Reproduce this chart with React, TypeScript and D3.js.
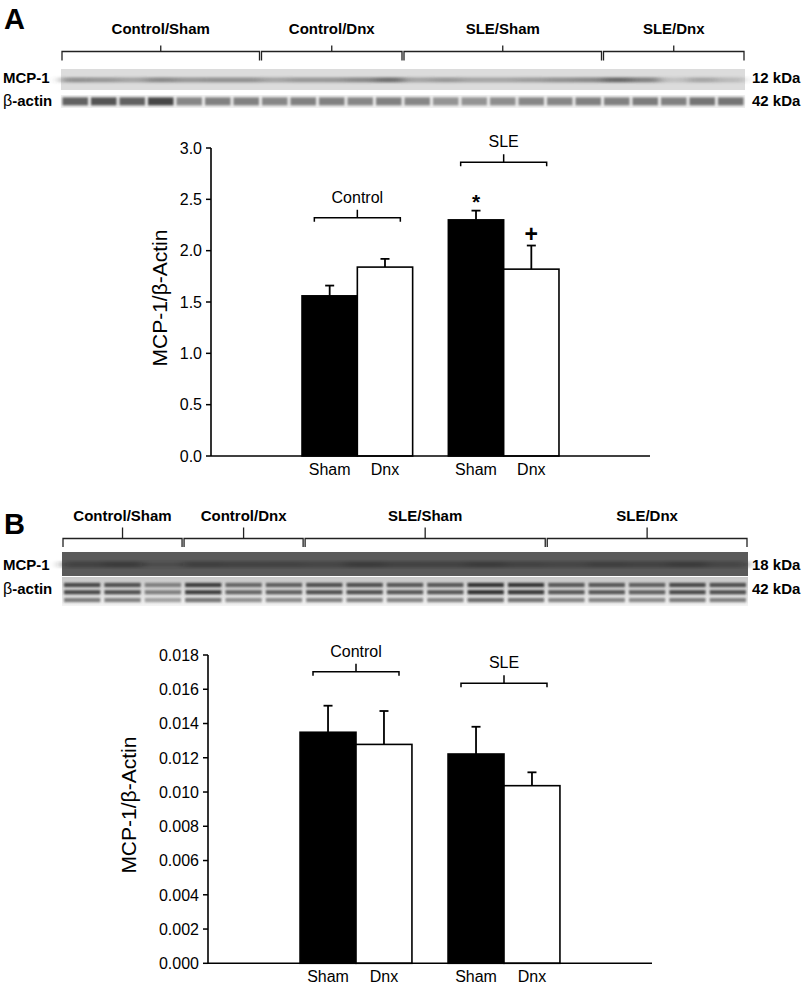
import React from "react";
import * as d3 from "d3";

// ---------- Data ----------
const groups = ["Control", "SLE"];
const treatments = ["Sham", "Dnx"];
const ticksA = [0, 0.5, 1.0, 1.5, 2.0, 2.5, 3.0];
const ticksB = [0, 0.002, 0.004, 0.006, 0.008, 0.01, 0.012, 0.014, 0.016, 0.018];

const meanA_Sham = [1.56, 2.3];
const meanA_Dnx = [1.84, 1.82];
const semA_Sham = [0.1, 0.09];
const semA_Dnx = [0.08, 0.23];
const bracketLevelA = [2.32, 2.86];

const meanB_Sham = [0.01349, 0.01222];
const meanB_Dnx = [0.01278, 0.01037];
const semB_Sham = [0.00155, 0.00159];
const semB_Dnx = [0.00195, 0.00078];
const bracketLevelB = [0.01702, 0.01635];

const blotGroups = ["Control/Sham", "Control/Dnx", "SLE/Sham", "SLE/Dnx"];
const laneCountsA = [7, 5, 7, 5];
const laneCountsB = [3, 3, 6, 5];
// band darkness per lane (0..1)
const mcpA = [0.55, 0.5, 0.4, 0.6, 0.5, 0.55, 0.55, 0.4, 0.5, 0.5, 0.6, 0.8, 0.4, 0.5, 0.4, 0.4, 0.45, 0.55, 0.6, 0.85, 0.65, 0.2, 0.4, 0.25];
const actinA = [0.75, 0.85, 0.75, 0.95, 0.45, 0.5, 0.5, 0.45, 0.5, 0.5, 0.45, 0.5, 0.45, 0.35, 0.35, 0.4, 0.45, 0.45, 0.5, 0.5, 0.55, 0.5, 0.6, 0.6];
const mcpB = [0.5, 0.6, 0.3, 0.55, 0.5, 0.5, 0.45, 0.6, 0.5, 0.5, 0.6, 0.5, 0.45, 0.55, 0.5, 0.6, 0.45];
const actinB = [0.8, 0.75, 0.4, 0.85, 0.6, 0.65, 0.75, 0.75, 0.7, 0.7, 0.95, 0.9, 0.7, 0.7, 0.65, 0.8, 0.75];

const FONT = "Liberation Sans, Arial, Helvetica, sans-serif";

// ---------- Blot ----------
function Blot({ letter, letterY, counts, mcp, actin, x0, x1, labelY, brY, brDrop, brTick, mcpTop, mcpH, actTop, actH, mcpKda, dark, mcpLabelY, actLabelY }: any) {
  const N = counts.reduce((a: number, b: number) => a + b, 0);
  const lane = d3.scaleBand<number>().domain(d3.range(N)).range([x0, x1]).paddingInner(0.1).paddingOuter(0.05);
  const step = lane.step();
  const starts = d3.cumsum([0, ...counts]);
  const gradId = "g" + letter;
  const blurId = "blur" + letter;
  const blurId2 = "blurw" + letter;
  return (
    <g>
      <defs>
        <filter id={blurId} x="-20%" y="-50%" width="140%" height="200%">
          <feGaussianBlur stdDeviation={dark ? "1 1.1" : "1.2 0.9"} />
        </filter>
        <filter id={blurId2} x="-5%" y="-50%" width="110%" height="200%">
          <feGaussianBlur stdDeviation="6 1.3" />
        </filter>
        <linearGradient id={gradId} x1="0" y1="0" x2="0" y2="1">
          <stop offset="0" stopColor="#c8c8c8" />
          <stop offset="1" stopColor="#f4f4f4" />
        </linearGradient>
      </defs>
      <text x={4} y={letterY} fontFamily={FONT} fontWeight="bold" fontSize={29}>{letter}</text>
      {blotGroups.map((g, i) => {
        const a = x0 + step * starts[i] + 1;
        const b = x0 + step * starts[i + 1] - 1;
        const m = (a + b) / 2;
        return (
          <g key={g}>
            <text x={m} y={labelY} textAnchor="middle" fontFamily={FONT} fontWeight="bold" fontSize={15}>{g}</text>
            <path d={`M${a},${brY + brDrop}V${brY}H${b}V${brY + brDrop}M${m},${brY}V${brY - brTick}`} fill="none" stroke="#222" strokeWidth={1.3} />
          </g>
        );
      })}
      <rect x={x0} y={mcpTop} width={x1 - x0} height={mcpH} fill={dark ? "#5a5a5a" : "#dcdcdc"} />
      <g filter={`url(#${blurId2})`}>
        {mcp.map((v: number, i: number) => (
          <rect key={i} x={x0 + step * i} y={mcpTop + mcpH * 0.4} width={step} height={mcpH * 0.24}
            fill={dark ? "#2a2a2a" : "#555"} opacity={v} />
        ))}
      </g>
      <rect x={x0} y={actTop} width={x1 - x0} height={actH} fill={dark ? `url(#${gradId})` : "#f0f0f0"} />
      <g filter={`url(#${blurId})`}>
        {actin.map((v: number, i: number) =>
          dark ? (
            <g key={i}>
              {[0.2, 0.45, 0.72].map((f, k) => (
                <rect key={k} x={lane(i)} y={actTop + actH * f} width={lane.bandwidth()} height={actH * 0.15}
                  fill={d3.interpolateGreys(0.4 + 0.5 * v)} opacity={k === 2 ? 0.65 : 0.95} />
              ))}
            </g>
          ) : (
            <rect key={i} x={lane(i)} y={actTop + actH * 0.18} width={lane.bandwidth()} height={actH * 0.62}
              fill={d3.interpolateGreys(0.35 + 0.45 * v)} />
          )
        )}
      </g>
      <text x={3} y={mcpLabelY} fontFamily={FONT} fontWeight="bold" fontSize={15}>MCP-1</text>
      <text x={3} y={actLabelY} fontFamily={FONT} fontWeight="bold" fontSize={15}>
        <tspan fontWeight="normal" fontSize={16}>β</tspan>-actin
      </text>
      <text x={752} y={mcpLabelY} fontFamily={FONT} fontWeight="bold" fontSize={15}>{mcpKda} kDa</text>
      <text x={752} y={actLabelY} fontFamily={FONT} fontWeight="bold" fontSize={15}>42 kDa</text>
    </g>
  );
}

// ---------- Bar chart ----------
function BarChart({ y0, y1, x0, x1, yMax, ticks, fmt, sham, dnx, semSham, semDnx, bracketLevel, labelX, marks, tickFont }: any) {
  const y = d3.scaleLinear().domain([0, yMax]).range([y0, y1]);
  const x = d3.scaleLinear().domain([0, groups.length + 1]).range([x0, x1]);
  const step = x(1) - x(0);
  const bw = step * 0.378;
  const series = [
    { name: treatments[0], vals: sham, sem: semSham, fill: "#000", off: -bw },
    { name: treatments[1], vals: dnx, sem: semDnx, fill: "#fff", off: 0 },
  ];
  return (
    <g fontFamily={FONT}>
      {groups.map((g, gi) =>
        series.map((s) => {
          const cx = x(gi + 1);
          const left = cx + s.off;
          const top = y(s.vals[gi]);
          const et = y(s.vals[gi] + s.sem[gi]);
          const ex = left + bw / 2;
          return (
            <g key={g + s.name}>
              <line x1={ex} x2={ex} y1={top} y2={et} stroke="#000" strokeWidth={1.8} />
              <line x1={ex - 4.5} x2={ex + 4.5} y1={et} y2={et} stroke="#000" strokeWidth={1.8} />
              <rect x={left} y={top} width={bw} height={y0 - top} fill={s.fill} stroke="#000" strokeWidth={1.6} />
              <text x={left + bw / 2} y={y0 + 19} textAnchor="middle" fontSize={16}>{s.name}</text>
            </g>
          );
        })
      )}
      {groups.map((g, gi) => {
        const cx = x(gi + 1);
        const by = y(bracketLevel[gi]);
        const a = cx - 43, b = cx + 43;
        return (
          <g key={"br" + g}>
            <path d={`M${a},${by + 4}V${by}H${b}V${by + 4}M${cx},${by}V${by - 8}`} fill="none" stroke="#000" strokeWidth={1.5} />
            <text x={cx} y={by - 15} textAnchor="middle" fontSize={16}>{g}</text>
          </g>
        );
      })}
      {marks.map((m: any) => {
        const gi = groups.indexOf(m.group);
        const s = series.find((q) => q.name === m.treat)!;
        const cx = x(gi + 1) + s.off + bw / 2;
        const et = y(s.vals[gi] + s.sem[gi]);
        return (
          <text key={m.sym} x={cx} y={et - m.gap} textAnchor="middle" fontSize={m.size} fontWeight="bold">{m.sym}</text>
        );
      })}
      <line x1={x0} x2={x0} y1={y0} y2={y1} stroke="#000" strokeWidth={1.6} />
      <line x1={x0} x2={x1} y1={y0} y2={y0} stroke="#000" strokeWidth={1.6} />
      {ticks.map((t: number) => (
        <g key={t}>
          <line x1={x0 - 5} x2={x0} y1={y(t)} y2={y(t)} stroke="#000" strokeWidth={1.5} />
          <text x={x0 - 9} y={y(t)} dy="0.36em" textAnchor="end" fontSize={tickFont}>{fmt(t)}</text>
        </g>
      ))}
      <text transform={`translate(${labelX},${(y0 + y1) / 2 - 4}) rotate(-90)`} textAnchor="middle" fontSize={21}>
        MCP-1/β-Actin
      </text>
    </g>
  );
}

export default function App() {
  return (
    <svg width={805} height={987} style={{ position: "absolute", left: 0, top: 0, background: "#fff" }}>
      <rect width={805} height={987} fill="#fff" />
      <Blot letter="A" letterY={29} counts={laneCountsA} mcp={mcpA} actin={actinA} x0={61} x1={745}
        labelY={34} brY={51.5} brDrop={9} brTick={6} mcpTop={69} mcpH={21} actTop={95} actH={13}
        mcpKda={12} dark={false} mcpLabelY={83} actLabelY={106} />
      <Blot letter="B" letterY={534} counts={laneCountsB} mcp={mcpB} actin={actinB} x0={62} x1={748}
        labelY={521} brY={538.5} brDrop={8.5} brTick={11} mcpTop={552} mcpH={24} actTop={577} actH={29}
        mcpKda={18} dark={true} mcpLabelY={570} actLabelY={594} />
      <BarChart y0={456} y1={148} x0={211} x1={650} yMax={3} ticks={ticksA} fmt={d3.format(".1f")}
        sham={meanA_Sham} dnx={meanA_Dnx} semSham={semA_Sham} semDnx={semA_Dnx} bracketLevel={bracketLevelA}
        labelX={167} tickFont={16}
        marks={[{ group: "SLE", treat: "Sham", sym: "*", gap: 2, size: 21 }, { group: "SLE", treat: "Dnx", sym: "+", gap: 4, size: 23 }]} />
      <BarChart y0={963.3} y1={655} x0={208} x1={652} yMax={0.018} ticks={ticksB} fmt={d3.format(".3f")}
        sham={meanB_Sham} dnx={meanB_Dnx} semSham={semB_Sham} semDnx={semB_Dnx} bracketLevel={bracketLevelB}
        labelX={136} tickFont={16} marks={[]} />
    </svg>
  );
}
